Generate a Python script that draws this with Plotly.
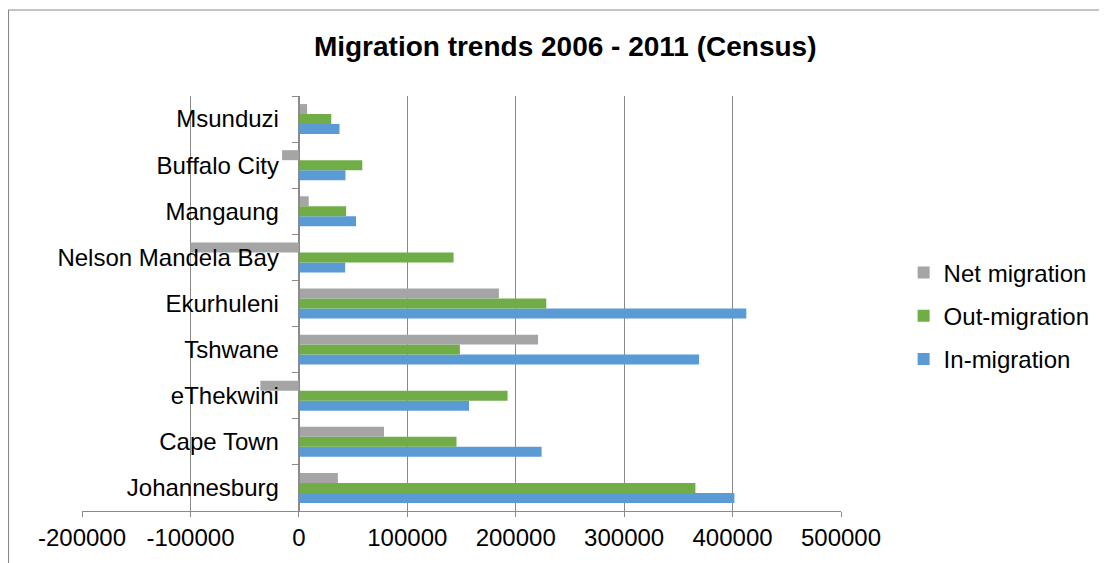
import plotly.graph_objects as go

cities = ["Johannesburg", "Cape Town", "eThekwini", "Tshwane", "Ekurhuleni",
          "Nelson Mandela Bay", "Mangaung", "Buffalo City", "Msunduzi"]
in_migration = [401700, 223900, 157000, 369100, 412700, 42700, 52700, 43000, 37500]
out_migration = [365700, 145400, 192500, 148500, 228200, 142700, 43600, 58500, 29900]
net_migration = [36000, 78500, -35500, 220600, 184500, -100000, 9100, -15500, 7600]
x_ticks = [-200000, -100000, 0, 100000, 200000, 300000, 400000, 500000]

FONT = "Liberation Sans, Arial, sans-serif"
GRID = "#8A8A8A"

fig = go.Figure()
series = [
    ("In-migration", in_migration, "#5B9BD5", 3),
    ("Out-migration", out_migration, "#70AD47", 2),
    ("Net migration", net_migration, "#A5A5A5", 1),
]
for name, vals, col, rank in series:
    fig.add_trace(go.Bar(
        y=cities, x=vals, name=name, orientation="h",
        marker=dict(color=col, line=dict(width=0)),
        legendgroup=name, legendrank=rank,
    ))

xmin, xmax = x_ticks[0], x_ticks[-1]
zero_pos = (0 - xmin) / (xmax - xmin)

L, T, PW, PH = 74, 88, 764, 415
W, H = 1099, 555

fig.update_layout(
    width=W, height=H,
    margin=dict(l=L, r=W - L - PW, t=T, b=H - T - PH),
    paper_bgcolor="white", plot_bgcolor="white",
    barmode="group", bargap=0.35, bargroupgap=0,
    font=dict(family=FONT, size=24, color="black"),
    title=dict(text="<b>Migration trends 2006 - 2011 (Census)</b>",
               x=0.507, xanchor="center", y=0.932, yanchor="middle",
               font=dict(family=FONT, size=28, color="black")),
    legend=dict(x=1.0825, y=0.47, xanchor="left", yanchor="middle",
                traceorder="grouped", tracegroupgap=9,
                font=dict(family=FONT, size=24), itemwidth=30),
    showlegend=True,
)
fig.update_xaxes(
    range=[xmin, xmax], tickvals=x_ticks, ticktext=[str(v) for v in x_ticks],
    showgrid=True, gridcolor=GRID, gridwidth=1.3,
    zeroline=False, showline=True, linecolor=GRID, linewidth=1.3,
    ticks="outside", ticklen=5, tickcolor=GRID, tickwidth=1.3,
    tickfont=dict(family=FONT, size=24), domain=[0, 1],
)
fig.update_yaxes(
    type="category", categoryorder="array", categoryarray=cities,
    anchor="free", position=zero_pos,
    showline=True, linecolor=GRID, linewidth=1.3,
    ticks="outside", ticklen=7, tickcolor=GRID, tickwidth=1.3,
    tickson="boundaries", showgrid=False, zeroline=False,
    ticklabelstandoff=15,
    tickfont=dict(family=FONT, size=24),
)
# outer chart border
fig.add_shape(type="rect", xref="paper", yref="paper",
              x0=(0 - L) / PW, x1=1.5, y0=-0.3, y1=(T + PH - 2) / PH,
              line=dict(color="#8A8A8A", width=1.2), fillcolor="rgba(0,0,0,0)",
              layer="below")
fig.write_html("out.html")
